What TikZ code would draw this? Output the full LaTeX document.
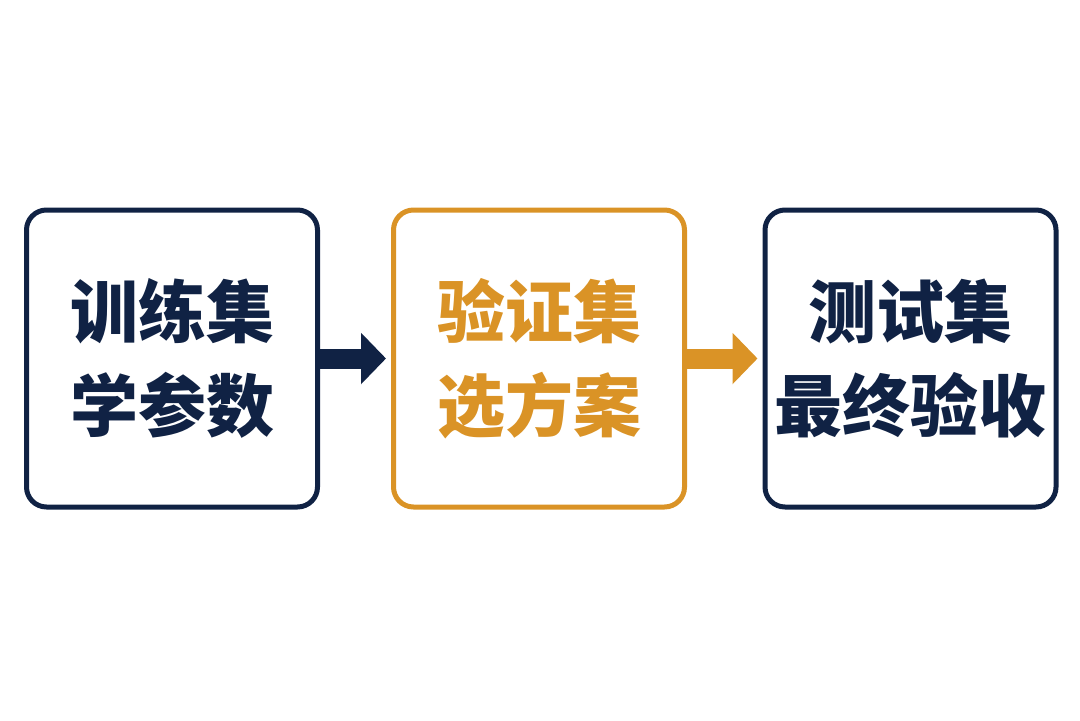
\documentclass[tikz,border=0pt]{standalone}
\usepackage{fontspec}
\newfontfamily\cjk{Noto Sans CJK SC}
\usetikzlibrary{positioning,arrows.meta}
\definecolor{navy}{RGB}{16,34,68}
\definecolor{amber}{RGB}{218,147,38}
\tikzset{
  stage/.style={draw, line width=2.5pt, rounded corners=10pt,
    minimum width=145.5pt, minimum height=148.5pt, inner sep=0pt,
    align=center, font=\fontsize{34}{47}\selectfont\cjk\bfseries},
  flow/.style={line width=10pt, -{Triangle[length=12.5pt,width=25pt]},
    shorten >=2.5pt}
}
\begin{document}
\begin{tikzpicture}[x=0.5pt,y=0.5pt]
  \useasboundingbox (0,0) rectangle (1080,720);
  \node[stage, navy] (train) at (172,361.5) {训练集\\学参数};
  \node[stage, amber, right=35.5pt of train] (valid) {验证集\\选方案};
  \node[stage, navy, right=37.75pt of valid] (test) {测试集\\最终验收};
  \draw[flow, navy] (train.east) -- (valid.west);
  \draw[flow, amber] (valid.east) -- (test.west);
\end{tikzpicture}
\end{document}
